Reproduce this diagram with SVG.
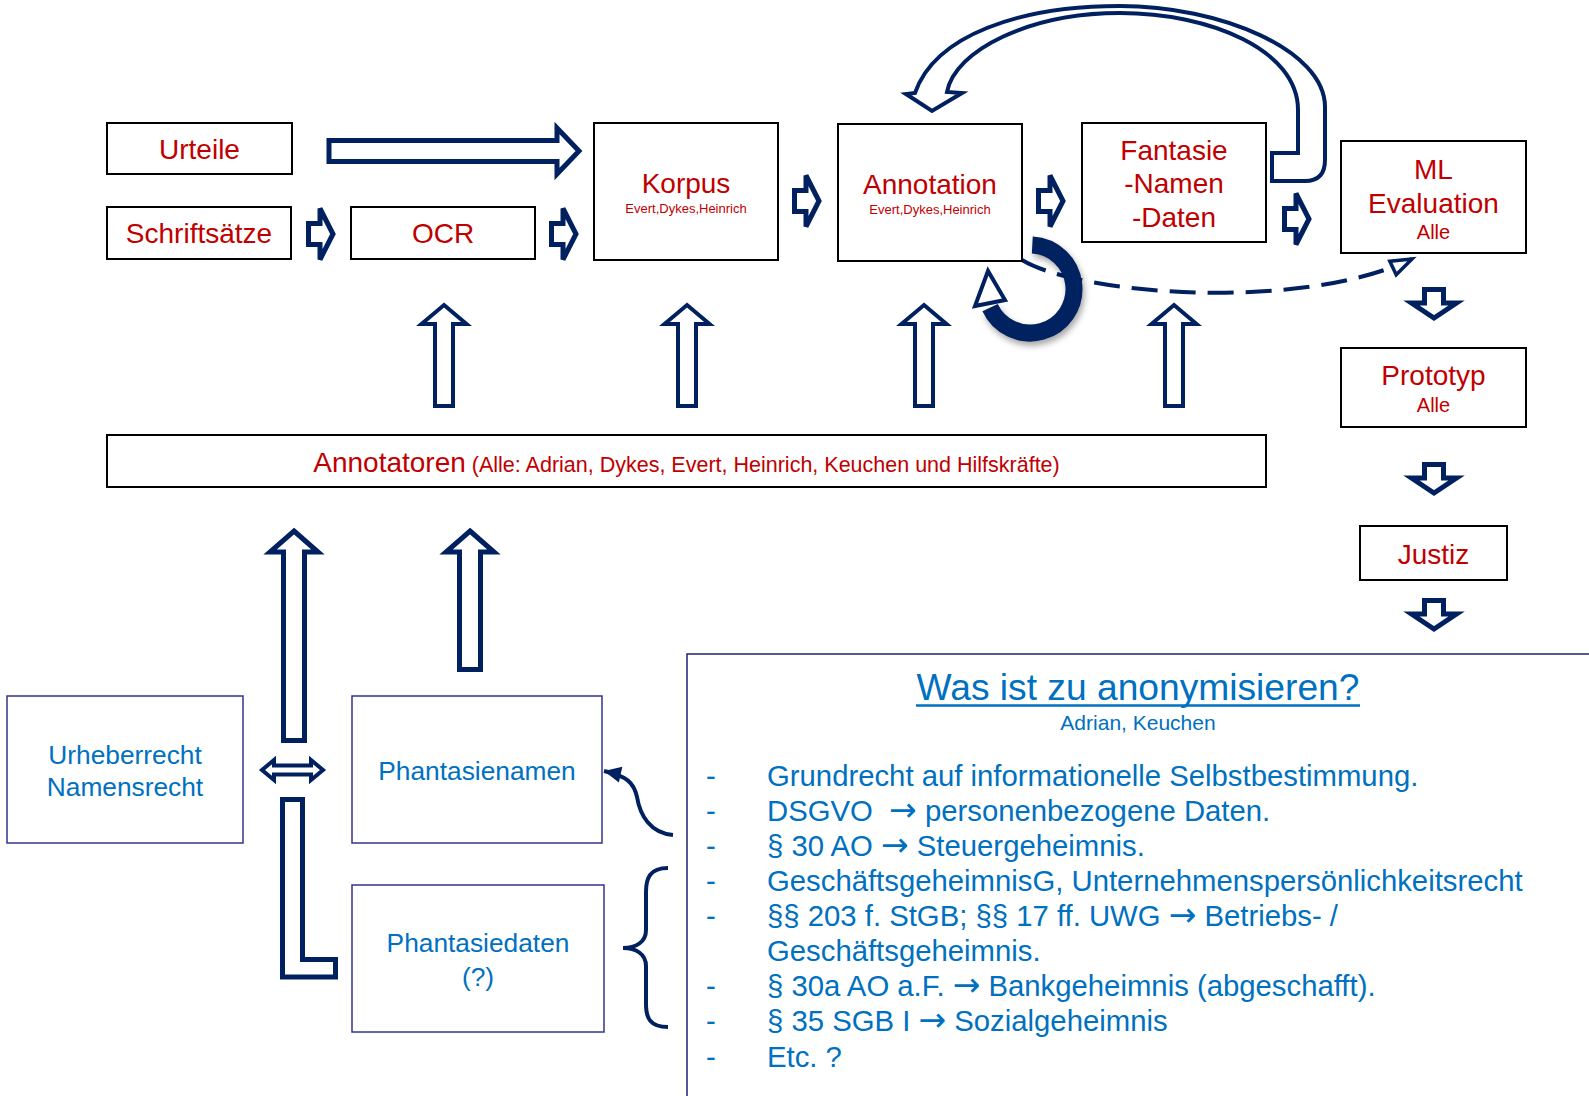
<svg xmlns="http://www.w3.org/2000/svg" width="1589" height="1096" viewBox="0 0 1589 1096">
<style>
  text { font-family: "Liberation Sans", Arial, sans-serif; }
  .box { fill: #fff; stroke: #000; stroke-width: 2; }
  .bbox { fill: #fff; stroke: #33338f; stroke-width: 1.5; }
  .red { fill: #C00000; }
  .blue { fill: #0070C0; }
  .lg { font-size: 28px; }
  .sm { font-size: 13px; }
  .md { font-size: 20px; }
  .bt { font-size: 26.3px; }
  .li { font-size: 29.3px; }
  .arr { font-family: "DejaVu Sans", sans-serif; font-size: 33px; }
  .blk { fill: #fff; stroke: #002060; stroke-width: 5; stroke-linejoin: miter; }
  .blk4 { fill: #fff; stroke: #002060; stroke-width: 4; stroke-linejoin: miter; }
  .ln { fill: none; stroke: #002060; stroke-width: 4; }
</style>
<defs>
  <path id="ra" d="M2.5,-10.5 H14 V-25.5 L27,0 L14,25.5 V10.5 H2.5 Z"/>
  <path id="da" d="M-9.5,2.5 H9.5 V16 H22.5 L0,31 L-22.5,16 H-9.5 Z"/>
  <path id="ua" d="M0,3 L22.5,22 H9 V104 H-9 V22 H-22.5 Z"/>
  <marker id="openTri" markerUnits="userSpaceOnUse" orient="auto" refX="0" refY="0" markerWidth="40" markerHeight="40" viewBox="-30 -20 40 40" overflow="visible">
    <path d="M-21,-7.5 L0,0 L-21,7.5 Z" fill="#fff" stroke="#002060" stroke-width="3.5" stroke-dasharray="none"/>
  </marker>
  <marker id="solidTri" markerUnits="userSpaceOnUse" orient="auto" refX="0" refY="0" markerWidth="30" markerHeight="30" viewBox="-20 -15 30 30" overflow="visible">
    <path d="M-17,-8 L0,0 L-17,8 Z" fill="#002060"/>
  </marker>
  <filter id="shadow" x="-30%" y="-30%" width="160%" height="160%">
    <feDropShadow dx="2" dy="4" stdDeviation="3" flood-color="#000" flood-opacity="0.35"/>
  </filter>
</defs>

<g id="connectors">
  <!-- Urteile -> Korpus -->
  <path class="blk" d="M329,140.5 H557 V128 L579,151 L557,174 V161.5 H329 Z"/>
  <use href="#ra" class="blk" transform="translate(306,234)"/>
  <use href="#ra" class="blk" transform="translate(549,234)"/>
  <use href="#ra" class="blk" transform="translate(792,201)"/>
  <use href="#ra" class="blk" transform="translate(1036,201)"/>
  <use href="#ra" class="blk" transform="translate(1282,219)"/>
  <!-- down arrows right column -->
  <use href="#da" class="blk" transform="translate(1434,287)"/>
  <use href="#da" class="blk" transform="translate(1434,462)"/>
  <use href="#da" class="blk" transform="translate(1434,598)"/>
  <!-- annotators up arrows -->
  <use href="#ua" class="blk4" transform="translate(444,302)"/>
  <use href="#ua" class="blk4" transform="translate(687,302)"/>
  <use href="#ua" class="blk4" transform="translate(924,302)"/>
  <use href="#ua" class="blk4" transform="translate(1174,302)"/>
  <!-- top loop arrow Fantasie -> Annotation -->
  <path class="blk4" d="M1272,181 H1305 Q1325,181 1325,160 L1325,107 C1325,50 1220,6 1120,6 C1020,6 935,35 915,93 L906,94 L932,111 L962,93 L947,92 C955,50 1030,13 1120,13 C1210,13 1298,50 1298,110 L1298,153 L1272,153 Z"/>
  <!-- dashed to ML Evaluation -->
  <path d="M1022,260 C1080,295 1300,312 1412,259" fill="none" stroke="#002060" stroke-width="4" stroke-dasharray="26 12" marker-end="url(#openTri)"/>
  <!-- circular self-loop on Annotation -->
  <path d="M1032.3,245.1 A44,44 0 1 1 990.1,307.6" fill="none" stroke="#002060" stroke-width="17" filter="url(#shadow)"/>
  <polygon points="988,271 975,306 1005,300" fill="#fff" stroke="#002060" stroke-width="4" stroke-linejoin="miter"/>
  <!-- bottom up arrows -->
  <path class="blk" d="M294,531 L318,552 H304.5 V740.5 H283.5 V552 H270 Z"/>
  <path class="blk" d="M470,531 L494,552 H480.5 V669.5 H459.5 V552 H446 Z"/>
  <!-- double arrow -->
  <path class="blk4" d="M262,770 L274,760 V765.5 H311 V760 L323,770 L311,780 V774.5 H274 V780 Z"/>
  <!-- L shape -->
  <path class="blk" d="M282.5,799.5 H302.5 V959.5 H335.5 V977 H282.5 Z"/>
  <!-- curved arrow to Phantasienamen -->
  <path class="ln" d="M673,835 C650,833 640,815 637,797 C634,783 627,776 604,771" marker-end="url(#solidTri)"/>
  <!-- brace -->
  <path class="ln" d="M668,868 C650,868 646,878 646,892 L646,930 C646,942 636,948 623,948 C636,948 646,954 646,966 L646,1004 C646,1018 650,1027 668,1027"/>
</g>

<g id="node-urteile">
  <rect class="box" x="107" y="123" width="185" height="51"/>
  <text class="red lg" x="199.5" y="159" text-anchor="middle">Urteile</text>
</g>
<g id="node-schriftsaetze">
  <rect class="box" x="107" y="207" width="184" height="52"/>
  <text class="red lg" x="199" y="243" text-anchor="middle">Schriftsätze</text>
</g>
<g id="node-ocr">
  <rect class="box" x="351" y="207" width="184" height="52"/>
  <text class="red lg" x="443" y="243" text-anchor="middle">OCR</text>
</g>
<g id="node-korpus">
  <rect class="box" x="594" y="123" width="184" height="137"/>
  <text class="red lg" x="686" y="193" text-anchor="middle">Korpus</text>
  <text class="red sm" x="686" y="213" text-anchor="middle">Evert,Dykes,Heinrich</text>
</g>
<g id="node-annotation">
  <rect class="box" x="838" y="124" width="184" height="137"/>
  <text class="red lg" x="930" y="194" text-anchor="middle">Annotation</text>
  <text class="red sm" x="930" y="214" text-anchor="middle">Evert,Dykes,Heinrich</text>
</g>
<g id="node-fantasie">
  <rect class="box" x="1082" y="123" width="184" height="119"/>
  <text class="red lg" x="1174" y="160" text-anchor="middle">Fantasie</text>
  <text class="red lg" x="1174" y="193" text-anchor="middle">-Namen</text>
  <text class="red lg" x="1174" y="227" text-anchor="middle">-Daten</text>
</g>
<g id="node-ml">
  <rect class="box" x="1341" y="141" width="185" height="112"/>
  <text class="red lg" x="1433.5" y="179" text-anchor="middle">ML</text>
  <text class="red lg" x="1433.5" y="213" text-anchor="middle">Evaluation</text>
  <text class="red md" x="1433.5" y="239" text-anchor="middle">Alle</text>
</g>
<g id="node-prototyp">
  <rect class="box" x="1341" y="348" width="185" height="79"/>
  <text class="red lg" x="1433.5" y="385" text-anchor="middle">Prototyp</text>
  <text class="red md" x="1433.5" y="412" text-anchor="middle">Alle</text>
</g>
<g id="node-justiz">
  <rect class="box" x="1360" y="526" width="147" height="54"/>
  <text class="red lg" x="1433.5" y="564" text-anchor="middle">Justiz</text>
</g>
<g id="node-annotatoren">
  <rect class="box" x="107" y="435" width="1159" height="52"/>
  <text class="red" x="686.5" y="472" text-anchor="middle"><tspan font-size="28">Annotatoren</tspan><tspan font-size="21.5"> (Alle: Adrian, Dykes, Evert, Heinrich, Keuchen und Hilfskräfte)</tspan></text>
</g>
<g id="node-urheberrecht">
  <rect class="bbox" x="7" y="696" width="236" height="147"/>
  <text class="blue bt" x="125" y="764" text-anchor="middle">Urheberrecht</text>
  <text class="blue bt" x="125" y="796" text-anchor="middle">Namensrecht</text>
</g>
<g id="node-phantasienamen">
  <rect class="bbox" x="352" y="696" width="250" height="147"/>
  <text class="blue bt" x="477" y="780" text-anchor="middle">Phantasienamen</text>
</g>
<g id="node-phantasiedaten">
  <rect class="bbox" x="352" y="885" width="252" height="147"/>
  <text class="blue bt" x="478" y="952" text-anchor="middle">Phantasiedaten</text>
  <text class="blue bt" x="478" y="986" text-anchor="middle">(?)</text>
</g>
<g id="node-anonymisieren">
  <rect x="687" y="654" width="920" height="470" fill="#fff" stroke="#202070" stroke-width="1.5"/>
  <text class="blue" x="1138" y="700" text-anchor="middle" font-size="37.2">Was ist zu anonymisieren?</text>
  <line x1="916" y1="705.5" x2="1360" y2="705.5" stroke="#0070C0" stroke-width="2.5"/>
  <text class="blue" x="1138" y="730" text-anchor="middle" font-size="21">Adrian, Keuchen</text>
  <g class="blue li">
    <text x="706" y="786">-</text>
    <text x="767" y="786">Grundrecht auf informationelle Selbstbestimmung.</text>
    <text x="706" y="821">-</text>
    <text x="767" y="821">DSGVO&#160; <tspan class="arr">→</tspan> personenbezogene Daten.</text>
    <text x="706" y="856">-</text>
    <text x="767" y="856">§ 30 AO <tspan class="arr">→</tspan> Steuergeheimnis.</text>
    <text x="706" y="891">-</text>
    <text x="767" y="891">GeschäftsgeheimnisG, Unternehmenspersönlichkeitsrecht</text>
    <text x="706" y="926">-</text>
    <text x="767" y="926">§§ 203 f. StGB; §§ 17 ff. UWG <tspan class="arr">→</tspan> Betriebs- /</text>
    <text x="767" y="961">Geschäftsgeheimnis.</text>
    <text x="706" y="996">-</text>
    <text x="767" y="996">§ 30a AO a.F. <tspan class="arr">→</tspan> Bankgeheimnis (abgeschafft).</text>
    <text x="706" y="1031">-</text>
    <text x="767" y="1031">§ 35 SGB I <tspan class="arr">→</tspan> Sozialgeheimnis</text>
    <text x="706" y="1067">-</text>
    <text x="767" y="1067">Etc. ?</text>
  </g>
</g>
</svg>
